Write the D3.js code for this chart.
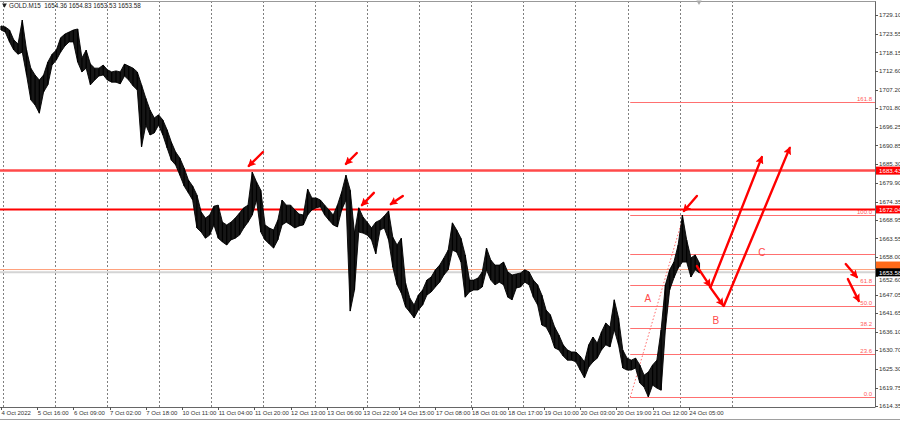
<!DOCTYPE html>
<html><head><meta charset="utf-8">
<script src="https://cdn.jsdelivr.net/npm/d3@7"></script>
<style>
html,body{margin:0;padding:0;background:#fff;}
svg{display:block;font-family:"Liberation Sans",Arial,sans-serif;}
</style></head><body>
<svg id="c" width="900" height="422"></svg>
<script>
// ---------------- DATA ----------------
const symbolTitle = "GOLD.M15";
const ohlcValues = ["1654.36", "1654.83", "1653.53", "1653.58"];
const sampleHours = 2; // each sample = 2 hours of M15 bars
const barHigh = [1725.9,1725.6,1724.7,1721.8,1720.6,1727.6,1718.8,1713.5,1711.5,1710.0,
 1711.5,1715.3,1717.6,1718.8,1722.4,1723.5,1724.1,1724.7,1725.0,1716.5,
 1718.8,1714.7,1713.5,1713.5,1714.4,1713.0,1712.4,1712.7,1712.4,1714.7,
 1714.1,1713.5,1712.4,1708.6,1704.7,1701.2,1698.9,1699.8,1698.3,1695.4,
 1691.8,1688.9,1687.1,1684.2,1680.7,1678.9,1676.3,1671.3,1669.5,1670.4,
 1673.0,1673.3,1668.3,1667.5,1668.3,1669.5,1671.0,1672.5,1673.3,1683.0,
 1680.1,1677.7,1667.5,1666.6,1666.0,1668.9,1674.8,1673.3,1673.3,1671.9,
 1670.7,1670.4,1678.0,1675.4,1675.4,1674.8,1673.3,1671.9,1670.4,1673.3,
 1677.2,1682.1,1677.7,1665.1,1672.5,1669.8,1668.3,1666.6,1668.3,1668.9,
 1670.1,1671.6,1663.9,1661.6,1663.6,1650.4,1646.0,1644.0,1646.9,1648.4,
 1651.3,1652.2,1654.3,1655.7,1657.8,1660.1,1668.1,1666.0,1663.6,1658.7,
 1651.3,1651.3,1651.9,1653.7,1660.7,1657.2,1655.7,1655.7,1656.6,1653.7,
 1652.8,1653.1,1653.4,1654.3,1653.7,1651.3,1649.9,1646.9,1642.5,1641.1,
 1637.5,1635.2,1632.3,1630.8,1630.2,1630.2,1629.0,1627.3,1632.3,1634.6,
 1632.8,1636.1,1638.7,1637.5,1645.5,1640.2,1630.8,1628.4,1627.8,1628.4,
 1626.4,1623.4,1624.3,1626.4,1627.8,1636.7,1649.9,1654.3,1656.6,1661.6,
 1670.4,1663.1,1657.8,1658.7,1656.3];
const barLow = [1724.7,1724.1,1721.2,1718.8,1717.6,1718.2,1711.5,1704.2,1702.7,1700.3,
 1706.5,1708.6,1714.4,1715.9,1718.2,1720.0,1721.2,1721.2,1715.3,1712.4,
 1713.5,1708.6,1710.0,1711.2,1711.5,1710.0,1709.4,1709.4,1708.9,1711.2,
 1710.0,1708.3,1707.1,1690.4,1696.8,1693.9,1694.5,1696.8,1693.9,1690.1,
 1686.5,1685.1,1682.1,1678.9,1676.9,1674.8,1666.6,1665.4,1663.6,1664.5,
 1667.5,1663.6,1662.5,1661.6,1663.1,1663.6,1664.5,1666.6,1668.3,1670.4,
 1674.8,1665.4,1663.1,1661.9,1660.7,1663.1,1667.5,1668.3,1667.5,1666.6,
 1667.2,1667.5,1670.4,1671.9,1672.5,1672.8,1670.4,1668.9,1667.5,1666.9,
 1671.9,1674.8,1642.2,1648.4,1665.4,1665.1,1664.5,1663.1,1659.0,1666.0,
 1666.6,1663.1,1655.1,1649.9,1647.5,1643.4,1641.9,1640.2,1642.5,1644.0,
 1646.9,1647.8,1649.3,1650.7,1652.8,1654.3,1660.1,1659.5,1656.6,1646.3,
 1647.8,1648.4,1648.4,1649.3,1654.3,1651.3,1649.9,1650.7,1649.9,1646.3,
 1645.5,1649.0,1649.3,1650.7,1649.9,1646.3,1644.0,1638.1,1637.5,1635.2,
 1631.4,1630.8,1629.0,1627.8,1627.8,1627.3,1624.9,1622.6,1625.8,1627.3,
 1628.4,1630.8,1632.3,1631.7,1636.7,1632.3,1625.5,1624.9,1624.9,1625.5,
 1621.1,1619.9,1617.0,1620.5,1619.6,1619.0,1636.7,1648.4,1651.9,1654.8,
 1656.6,1656.6,1652.2,1654.3,1653.4];

const xTickLabels = ["4 Oct 2022","5 Oct 16:00","6 Oct 09:00","7 Oct 02:00","7 Oct 18:00",
 "10 Oct 11:00","11 Oct 04:00","11 Oct 20:00","12 Oct 13:00","13 Oct 06:00","13 Oct 22:00",
 "14 Oct 15:00","17 Oct 08:00","18 Oct 01:00","18 Oct 17:00","19 Oct 10:00","20 Oct 03:00",
 "20 Oct 19:00","21 Oct 12:00","24 Oct 05:00"];
const xTickStepHours = 17;
const yTickValues = [1729.10,1723.55,1718.15,1712.60,1707.20,1701.80,1696.25,1690.85,1685.30,
 1679.90,1674.35,1668.95,1663.55,1658.00,1652.60,1647.05,1641.65,1636.10,1630.70,1625.30,1619.75,1614.35];

const levelLines = [1683.43, 1672.04];
const bidPrice = 1653.58;
const askPrice = 1654.40;

const fibLow = 1616.9, fibHigh = 1670.4;
const fibLowHour = 295.5, fibHighHour = 320.6;
const fibLevels = [0, 23.6, 38.2, 50, 61.8, 78.6, 100, 161.8];
const fibLabels = ["0.0","23.6","38.2","50.0","61.8","","100.0","161.8"];

// arrows: [hourFrom, priceFrom, hourTo, priceTo]
const arrowList = [
 [123.0,1688.9,116.4,1684.8],
 [167.1,1688.6,162.0,1685.4],
 [175.1,1676.9,169.5,1673.3],
 [188.7,1676.0,183.1,1673.6],
 [326.8,1676.0,320.7,1671.6],
 [326.8,1655.4,332.9,1649.6],
 [332.9,1649.3,339.0,1644.0],
 [333.3,1649.3,357.3,1687.4],
 [339.4,1643.7,370.4,1690.1],
 [396.7,1656.0,401.9,1652.2],
 [397.7,1651.6,402.8,1645.2]
];
const waveText = ["A","B","C"];
const waveHour = [303.8, 335.7, 357.3];
const wavePrice = [1646.0, 1639.3, 1659.5];

// ---------------- CHART ----------------
const W = 900, H = 422;
const plotL = 0, plotR = 875, plotT = 1, plotB = 407;
const svg = d3.select("#c");
const x = d3.scaleLinear().domain([0, 408]).range([1, 869.8]);
const y = d3.scaleLinear().domain([1614.35, 1729.10]).range([406, 15]);

svg.append("rect").attr("width", W).attr("height", H).attr("fill", "#fff");
svg.append("defs").append("clipPath").attr("id","pc")
  .append("rect").attr("x",plotL).attr("y",plotT).attr("width",plotR-plotL).attr("height",plotB-plotT);
svg.select("defs").append("marker").attr("id","ah")
  .attr("viewBox","0 0 10 10").attr("refX",8).attr("refY",5)
  .attr("markerWidth",3.4).attr("markerHeight",3.4).attr("orient","auto")
  .append("path").attr("d","M0,0 L10,5 L0,10 L2,5 z").attr("fill","#ff0000");

const g = svg.append("g").attr("clip-path","url(#pc)");

// vertical dashed grid
const gridStart = 0.94, gridStep = 24.44;
g.selectAll("line.grid").data(d3.range(0, 15)).join("line")
  .attr("x1", k => Math.round(x(gridStart + gridStep*k)) + 0.5)
  .attr("x2", k => Math.round(x(gridStart + gridStep*k)) + 0.5)
  .attr("y1", plotT).attr("y2", plotB)
  .attr("stroke", "#7f7f7f").attr("stroke-width", 1).attr("stroke-dasharray", "2,2");

// bid / ask lines
g.append("line").attr("x1",plotL).attr("x2",plotR)
  .attr("y1", y(bidPrice)).attr("y2", y(bidPrice))
  .attr("stroke","#d4d4d4").attr("stroke-width",2);
g.append("line").attr("x1",plotL).attr("x2",plotR)
  .attr("y1", y(askPrice)).attr("y2", y(askPrice))
  .attr("stroke","#ff9f7a").attr("stroke-width",1);

// fibonacci
const fibPrice = l => fibLow + (fibHigh - fibLow) * l / 100;
g.selectAll("line.fib").data(fibLevels).join("line")
  .attr("x1", x(fibLowHour)).attr("x2", plotR)
  .attr("y1", d => Math.round(y(fibPrice(d))) + 0.5).attr("y2", d => Math.round(y(fibPrice(d))) + 0.5)
  .attr("stroke", "#ff7070").attr("stroke-width", 1);
g.append("line").attr("x1", x(fibLowHour)).attr("y1", y(fibLow))
  .attr("x2", x(fibHighHour)).attr("y2", y(fibHigh))
  .attr("stroke","#ff6a6a").attr("stroke-width",1).attr("stroke-dasharray","1.5,2");
g.selectAll("text.fib").data(fibLevels).join("text")
  .attr("x", plotR - 3).attr("y", d => y(fibPrice(d)) - 1.5)
  .attr("text-anchor","end").attr("font-size", 6).attr("fill","#ff5a5a")
  .text((d,i) => fibLabels[i]);

// horizontal level lines
g.append("line").attr("x1",plotL).attr("x2",plotR)
  .attr("y1", y(levelLines[0])).attr("y2", y(levelLines[0]))
  .attr("stroke","#ff4a4a").attr("stroke-width",2.5);
g.append("line").attr("x1",plotL).attr("x2",plotR)
  .attr("y1", y(levelLines[1])).attr("y2", y(levelLines[1]))
  .attr("stroke","#ff0000").attr("stroke-width",2);

// price series: high-low band with bar strokes
const pts = barHigh.map((h, i) => ({t: i * sampleHours, hi: h, lo: barLow[i]}));
g.append("path").datum(pts)
  .attr("d", d3.area().x(d => x(d.t)).y0(d => y(d.lo)).y1(d => y(d.hi)))
  .attr("fill", "#161616");
g.append("path").datum(pts)
  .attr("d", d3.line().x(d => x(d.t)).y(d => y(d.hi)))
  .attr("fill","none").attr("stroke","#000").attr("stroke-width",0.9);
g.append("path").datum(pts)
  .attr("d", d3.line().x(d => x(d.t)).y(d => y(d.lo)))
  .attr("fill","none").attr("stroke","#000").attr("stroke-width",0.9);
g.selectAll("line.bar").data(pts).join("line")
  .attr("x1", d => x(d.t)).attr("x2", d => x(d.t))
  .attr("y1", d => y(d.hi)).attr("y2", d => y(d.lo))
  .attr("stroke","#000").attr("stroke-width",1.2);

// arrows
g.selectAll("line.arrow").data(arrowList).join("line")
  .attr("x1", d => x(d[0])).attr("y1", d => y(d[1]))
  .attr("x2", d => x(d[2])).attr("y2", d => y(d[3]))
  .attr("stroke","#ff0000").attr("stroke-width",2.4).attr("stroke-linecap","round")
  .attr("marker-end","url(#ah)");

// wave labels
g.selectAll("text.wave").data(waveText).join("text")
  .attr("x", (d,i) => x(waveHour[i])).attr("y", (d,i) => y(wavePrice[i]) + 3.5)
  .attr("text-anchor","middle").attr("font-size", 10).attr("fill","#ff4a4a")
  .text(d => d);

// frame
svg.append("line").attr("x1", plotR + 0.5).attr("x2", plotR + 0.5).attr("y1", plotT).attr("y2", plotB)
  .attr("stroke","#666").attr("stroke-width",1);
svg.append("line").attr("x1", 0).attr("x2", plotR + 0.5).attr("y1", plotT + 0.5).attr("y2", plotT + 0.5)
  .attr("stroke","#999").attr("stroke-width",1);
svg.append("line").attr("x1", 0).attr("x2", plotR + 0.5).attr("y1", plotB + 0.5).attr("y2", plotB + 0.5)
  .attr("stroke","#666").attr("stroke-width",1);
svg.append("line").attr("x1", 0).attr("x2", W).attr("y1", 419.5).attr("y2", 419.5)
  .attr("stroke","#a0a0a0").attr("stroke-width",1);

// y axis ticks & labels
const ya = svg.append("g");
ya.selectAll("line").data(yTickValues).join("line")
  .attr("x1", plotR).attr("x2", plotR + 3)
  .attr("y1", d => Math.round(y(d)) + 0.5).attr("y2", d => Math.round(y(d)) + 0.5)
  .attr("stroke","#555");
ya.selectAll("text").data(yTickValues).join("text")
  .attr("x", plotR + 4).attr("y", d => y(d) + 2.2 + (d === 1652.60 ? 4 : 0))
  .attr("font-size", 6.2).attr("fill","#333")
  .text(d => d.toFixed(2));

// x axis ticks & labels
const xTickHours = xTickLabels.map((d, i) => i * xTickStepHours);
const xa = svg.append("g");
xa.selectAll("line").data(xTickHours).join("line")
  .attr("x1", d => Math.round(x(d)) + 0.5).attr("x2", d => Math.round(x(d)) + 0.5)
  .attr("y1", plotB).attr("y2", plotB + 3).attr("stroke","#555");
xa.selectAll("text").data(xTickHours).join("text")
  .attr("x", d => x(d) + 0.5).attr("y", 414.5)
  .attr("font-size", 6).attr("fill","#333")
  .text((d, i) => xTickLabels[i]);

// price boxes on right axis
function priceBox(price, bg, fg, dy, showText) {
  const cy = y(price) + (dy || 0);
  svg.append("rect").attr("x", plotR + 1).attr("y", cy - 4).attr("width", W - plotR - 1).attr("height", 8).attr("fill", bg);
  if (showText) svg.append("text").attr("x", plotR + 4).attr("y", cy + 2.2).attr("font-size", 6.2).attr("fill", fg).text(price.toFixed(2));
}
priceBox(levelLines[0], "#ff0000", "#fff", 0, true);
priceBox(levelLines[1], "#ff0000", "#fff", 0, true);
priceBox(askPrice, "#ff6a1a", "#fff", -4, false);
priceBox(bidPrice, "#000", "#fff", 0, true);

// title
svg.append("path").attr("d", d3.symbol(d3.symbolTriangle, 10)()).attr("transform","translate(4.5,5) rotate(180)").attr("fill","#222");
svg.append("text").attr("x", 9).attr("y", 7.5).attr("font-size", 6.3).attr("fill","#222")
  .attr("xml:space","preserve")
  .text(symbolTitle + "  " + ohlcValues.join(" "));

// chart-shift marker
svg.append("path").attr("d", d3.symbol(d3.symbolTriangle, 12)()).attr("transform","translate(699,2) rotate(180)").attr("fill","#aaa");
</script>
</body></html>
